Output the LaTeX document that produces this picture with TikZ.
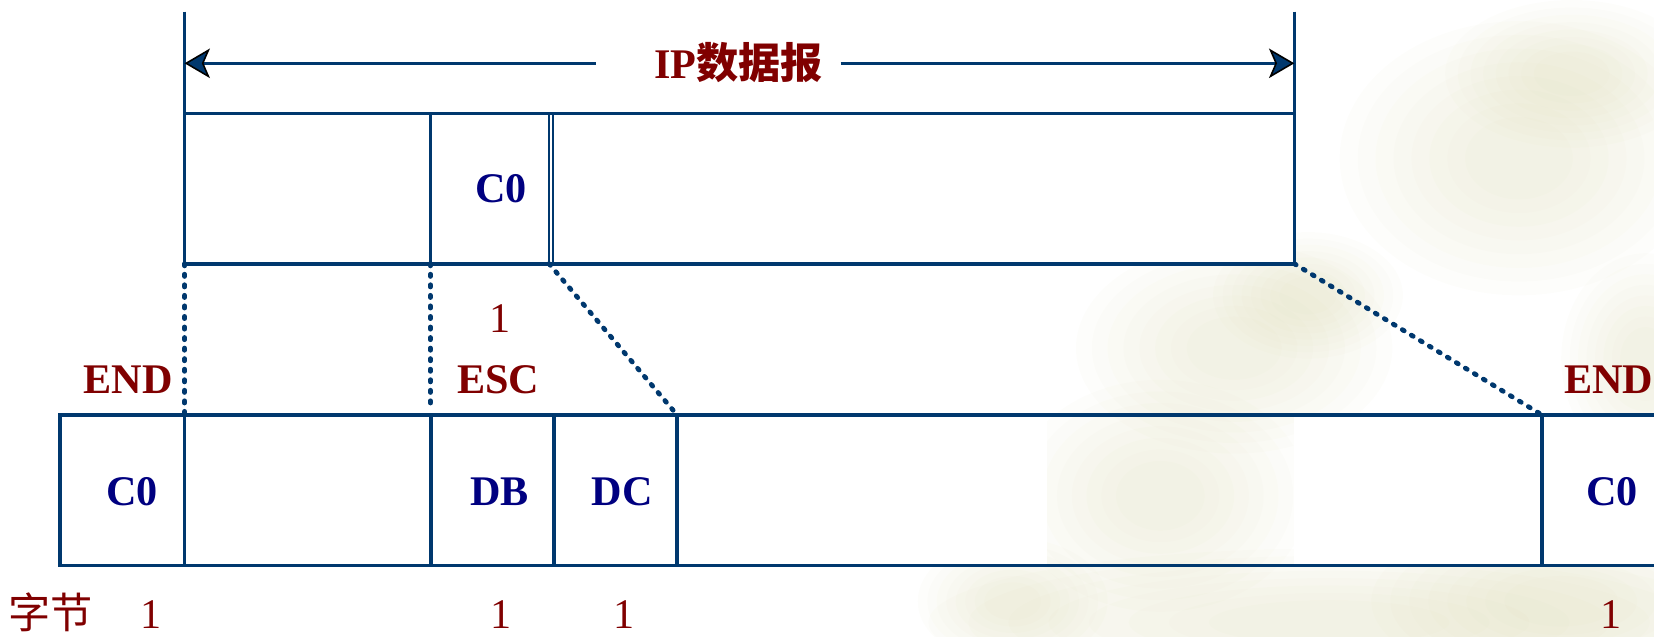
\documentclass[tikz,border=0pt]{standalone}
\usepackage{fontspec}
\setmainfont{Liberation Serif}
\newfontfamily\cjk{Noto Sans CJK SC}
\usetikzlibrary{arrows.meta}
\definecolor{lineblue}{RGB}{0,56,110}
\definecolor{txtblue}{RGB}{0,0,128}
\definecolor{txtred}{RGB}{128,0,0}
\definecolor{beige}{RGB}{205,203,150}
\newcommand\softblob[4]{\foreach \s in {1,0.9,0.8,0.7,0.6,0.5,0.4,0.3}{\fill[blob] (#1,#2) ellipse [x radius={\s*#3pt}, y radius={\s*#4pt}];}}
\begin{document}
\begin{tikzpicture}[x=1pt,y=-1pt,
  frame/.style={draw=lineblue,line width=3.4pt},
  thinframe/.style={draw=lineblue,line width=2pt},
  dotline/.style={draw=lineblue,line width=4.6pt,line cap=round,dash pattern=on 2pt off 8pt},
  bluelbl/.style={font=\fontsize{40}{40}\selectfont\bfseries, text=txtblue, anchor=base, inner sep=0pt},
  redlbl/.style={font=\fontsize{40}{40}\selectfont\bfseries, text=txtred, anchor=base, inner sep=0pt},
  numlbl/.style={font=\fontsize{40}{40}\selectfont, text=txtred, anchor=base, inner sep=0pt},
  blob/.style={fill=beige, opacity=0.035, draw=none},
  arr/.style={frame,-{Stealth[length=24pt,width=28pt,inset=6pt,fill=lineblue,color=black,line width=1.5pt]}},
]
\useasboundingbox (0,0) rectangle (1568,603);
% background wash
\softblob{1440}{150}{170}{130}
\softblob{1490}{70}{120}{70}
\softblob{1170}{330}{150}{100}
\softblob{1240}{280}{90}{60}
\softblob{1560}{340}{80}{100}
\softblob{1100}{470}{140}{110}
\softblob{1260}{590}{380}{70}
\softblob{1480}{570}{180}{80}
\softblob{960}{570}{90}{60}
% white cells
\fill[white] (175,107.5) rectangle (1227,250);
\fill[white] (57,393.5) rectangle (993,536);
\fill[white] (1227,393.5) rectangle (1568,536);

% coordinates
\coordinate (vl0) at (175,11);
\coordinate (vr0) at (1227,11);
\coordinate (TL) at (175,107.5);
\coordinate (TR) at (1227,107.5);
\coordinate (BL) at (175,250);
\coordinate (BR) at (1227,250);
\coordinate (d1t) at (408,107.5);
\coordinate (d1b) at (408,250);
\coordinate (d2t) at (520.5,107.5);
\coordinate (d2b) at (520.5,250);
\coordinate (d3t) at (524,107.5);
\coordinate (d3b) at (524,250);
\coordinate (al) at (175,60);
\coordinate (ar) at (1227,60);
\coordinate (as) at (565,60);
\coordinate (ae) at (797,60);
% lower row
\coordinate (lL) at (57,393.5);
\coordinate (lLb) at (57,536);
\coordinate (lR) at (1575,393.5);
\coordinate (lRb) at (1575,536);
\coordinate (e1t) at (175,393.5);
\coordinate (e1b) at (175,536);
\coordinate (e2t) at (408.5,393.5);
\coordinate (e2b) at (408.5,536);
\coordinate (e2d) at (408,385);
\coordinate (e3t) at (525,393.5);
\coordinate (e3b) at (525,536);
\coordinate (e4t) at (642,393.5);
\coordinate (e4b) at (642,536);
\coordinate (e5t) at (1462,393.5);
\coordinate (e5b) at (1462,536);

% upper frame
\draw[frame] (vl0) -- (BL);
\draw[frame] (vr0) -- (BR);
\draw[frame] (TL) -- (TR);
\draw[frame] (BL) -- (BR);
\draw[frame] (d1t) -- (d1b);
\draw[thinframe] (d2t) -- (d2b);
\draw[thinframe] (d3t) -- (d3b);
\draw[arr] (as) -- (al);
\draw[arr] (ae) -- (ar);

% lower frame
\draw[frame] (lR) -- (lL) -- (lLb) -- (lRb);
\draw[frame] (e1t) -- (e1b);
\draw[frame] (e2t) -- (e2b);
\draw[frame] (e3t) -- (e3b);
\draw[frame] (e4t) -- (e4b);
\draw[frame] (e5t) -- (e5b);

% dotted mapping lines
\draw[dotline] (BL) -- (e1t);
\draw[dotline] (d1b) -- (e2d);
\draw[dotline] (d2b) -- (e4t);
\draw[dotline] (BR) -- (e5t);

% texts
\node[redlbl] (ip) at (700,74) {IP{\cjk 数据报}};
\node[bluelbl] (c0top) at (475,191.5) {C0};
\node[numlbl] (one) at (474,315) {1};
\node[redlbl] (endl) at (121.5,373) {END};
\node[redlbl] (esc) at (472.5,373) {ESC};
\node[redlbl] (endr) at (1525,373) {END};
\node[bluelbl] (c0l) at (125,479) {C0};
\node[bluelbl] (db) at (473.5,479) {DB};
\node[bluelbl] (dc) at (590,479) {DC};
\node[bluelbl] (c0r) at (1528,479) {C0};
\node[numlbl] (zj) at (48,596) {\cjk 字节};
\node[numlbl] (n1) at (143,596) {1};
\node[numlbl] (n2) at (475,596) {1};
\node[numlbl] (n3) at (592,596) {1};
\node[numlbl] (n4) at (1527,596) {1};
\end{tikzpicture}
\end{document}
